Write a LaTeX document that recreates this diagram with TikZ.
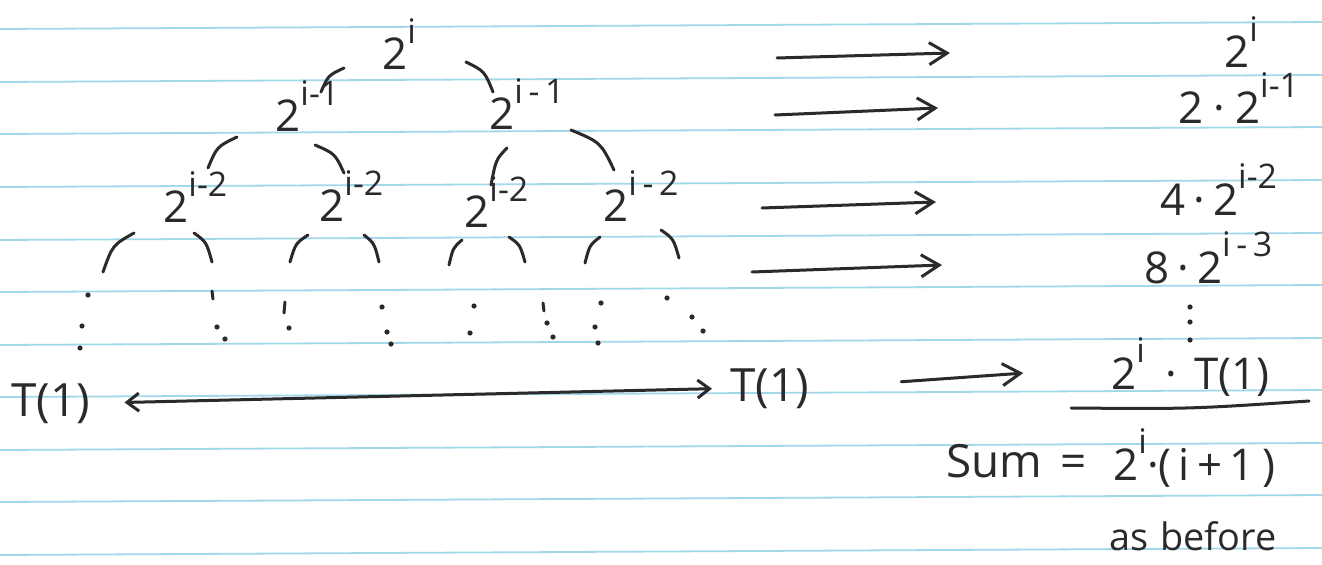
\documentclass[tikz,border=0pt]{standalone}
\usepackage{fontspec}
\setmainfont{Open Sans}
\usetikzlibrary{arrows.meta, calc}
\definecolor{ink}{HTML}{2A2A2A}
\definecolor{ruleblue}{HTML}{A3D8EA}
% power with a raised exponent, as written by hand
\newcommand{\pw}[2]{#1\raisebox{0.6em}{\fontsize{17}{17}\selectfont #2}}
\tikzset{
  ruling/.style={draw=ruleblue, line width=0.9bp},
  pen/.style={draw=ink, line width=1.5bp, line cap=round},
  hand/.style={inner sep=0pt, anchor=base west, text=ink, font=\fontsize{22}{25}\selectfont},
  handbig/.style={hand, font=\fontsize{23}{26}\selectfont},
  handsmall/.style={hand, font=\fontsize{19}{22}\selectfont},
  arr/.style={pen, -{Straight Barb[length=9bp,width=11bp]}},
  dbl/.style={pen, {Straight Barb[length=6bp,width=9bp]}-{Straight Barb[length=6bp,width=9bp]}}
}
\begin{document}
\begin{tikzpicture}[x=0.5bp, y=-0.5bp]
  \useasboundingbox (0,0) rectangle (1322,565);
  \fill[white] (0,0) rectangle (1322,565);
  % ruled paper
  \foreach \ry in {29,82,134,187,240,292,345,397,450,502,555}
    \draw[ruling] (0,\ry) -- (1322,\ry-7);

  % recursion tree
  \node[hand] (root) at (382,70) {\pw{2}{i}};
  \node[hand] (lone) at (275,132) {\pw{2}{i-1}};
  \node[hand] (ltwo) at (489,130) {\pw{2}{i\,-\,1}};
  \node[hand] (naa) at (163,223) {\pw{2}{i-2}};
  \node[hand] (nab) at (319,222) {\pw{2}{i-2}};
  \node[hand] (nba) at (464,228) {\pw{2}{i-2}};
  \node[hand] (nbb) at (603,222) {\pw{2}{i\,-\,2}};

  \foreach \ax/\ay/\bx/\by in {344/68/321/92, 466/62/493/92,
      237/137/208/168, 315/145/344/173, 507/148/491/185, 571/130/614/170,
      134/233/103/272, 194/233/212/262, 308/235/290/262, 364/235/379/262,
      462/240/449/265, 509/237/525/262, 600/237/585/263, 661/230/679/258}
    \draw[pen] (\ax,\ay) .. controls ($(\ax,\ay)!.5!(\bx,\by)!.38!(\bx,\ay)$) .. (\bx,\by);

  % dots down to the leaves
  \foreach \dx/\dy in {88/295, 82/326, 80/348, 217/327, 225/339, 289/328,
      382/307, 387/332, 391/344, 474/306, 470/333, 547/323, 553/337,
      601/303, 595/327, 598/343, 667/298, 692/317, 703/331}
    \fill[ink] (\dx,\dy) circle (1.3bp);
  \foreach \dx/\dy/\ex/\ey in {212/291/213/299, 285/302/284/313, 543/303/544/311}
    \draw[pen] (\dx,\dy) -- (\ex,\ey);

  % leaves
  \node[handbig] (tl) at (11,416) {T(1)};
  \node[handbig] (tr) at (730,401) {T(1)};
  \draw[dbl, shorten <=17bp, shorten >=9bp] (tl.east) -- (tr.west);

  % level sums
  \node[hand] (rzero) at (1224,68) {\pw{2}{i}};
  \node[hand] (rone) at (1178,124) {2\hspace{5bp}·\hspace{5bp}\pw{2}{i-1}};
  \node[hand] (rtwo) at (1160,215) {4\hspace{4bp}·\hspace{4bp}\pw{2}{i-2}};
  \node[hand] (rthree) at (1144,283) {8\hspace{4bp}·\hspace{4bp}\pw{2}{i\,-\,3}};
  \foreach \dy in {307,322,340}
    \fill[ink] (1190,\dy) circle (1.3bp);
  \node[hand] (prod) at (1111,389) {\pw{2}{i}\hspace{10bp}·\hspace{9bp}T(1)};

  \coordinate (szero) at (777,58);  \coordinate (ezero) at (950,53);
  \coordinate (sone) at (775,115);  \coordinate (eone) at (938,108);
  \coordinate (stwo) at (762,208);  \coordinate (etwo) at (936,202);
  \coordinate (sthree) at (752,272); \coordinate (ethree) at (942,265);
  \draw[arr] (szero) -- (ezero);
  \draw[arr] (sone) -- (eone);
  \draw[arr] (stwo) -- (etwo);
  \draw[arr] (sthree) -- (ethree);
  \draw[arr, shorten <=46bp, shorten >=44bp] (tr.east) -- (prod.west);

  % total
  \draw[pen] (1071,408) .. controls (1190,409) .. (1309,401);
  \node[handbig] (sumword) at (946,477) {Sum};
  \node[handbig] (eq) at (1060,477) {=};
  \node[hand] (total) at (1113,480) {\pw{2}{i}·(\,i\,+\,1\,)};
  \node[handsmall] (before) at (1109,550) {as\hspace{6bp}before};
\end{tikzpicture}
\end{document}
